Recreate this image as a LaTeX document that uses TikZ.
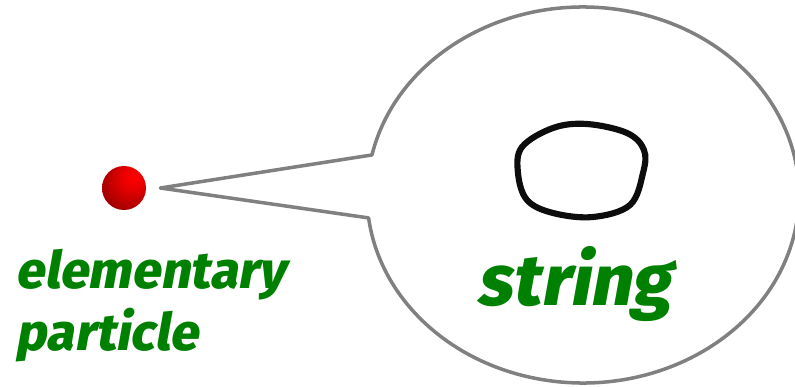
\documentclass[tikz,border=0pt]{standalone}
\usepackage{fontspec}
\newfontfamily\handfont{Fira Sans ExtraBold}[FakeSlant=0.18]
\usetikzlibrary{calc}

\definecolor{textgreen}{RGB}{0,128,0}
\definecolor{bubblegray}{RGB}{128,128,128}
\definecolor{ballpurple}{RGB}{85,0,70}

% red ball with a slightly off-centre highlight
\pgfdeclareradialshading{particleball}{\pgfpoint{12bp}{14bp}}{%
  color(0bp)=(red); color(12bp)=(red!92!black); color(35bp)=(red!62!black);
  color(55bp)=(ballpurple); color(75bp)=(ballpurple)}

\tikzset{
  greentext/.style={text=textgreen,inner sep=0pt},
  bubbleline/.style={draw=bubblegray,line width=2pt,line join=round}
}

\begin{document}
\begin{tikzpicture}[x=0.02cm,y=0.02cm]
  \useasboundingbox (0,0) rectangle (795,386);

  % the particle
  \node[circle,minimum size=0.88cm,inner sep=0pt,shading=particleball] (ball) at (124,198) {};
  \node[greentext,font=\handfont\fontsize{29.4}{35}\selectfont,anchor=base west,align=left]
    (particle) at (15,36) {elementary\\ particle};

  % speech bubble, its tail pointing at the ball
  \coordinate (tip) at ([xshift=0.28cm]ball.east);
  \coordinate (bubble) at (583,191);
  \draw[bubbleline]
    (bubble) ++(167.7:216 and 188) coordinate (upper)
    arc[start angle=167.7,end angle=-173,x radius=216,y radius=188] coordinate (lower)
    -- (tip) -- cycle;

  % closed string inside the bubble
  \draw[line width=3.5pt,black!95] plot[smooth cycle,tension=0.6] coordinates
    {(522,239) (553,258) (587,262) (627,253) (644,236) (643,213)
     (630,181) (593,169) (553,173) (527,186) (518,213)};
  \node[greentext,font=\handfont\fontsize{41}{48}\selectfont,anchor=base] (string) at (574,81)
    {string};
\end{tikzpicture}
\end{document}
